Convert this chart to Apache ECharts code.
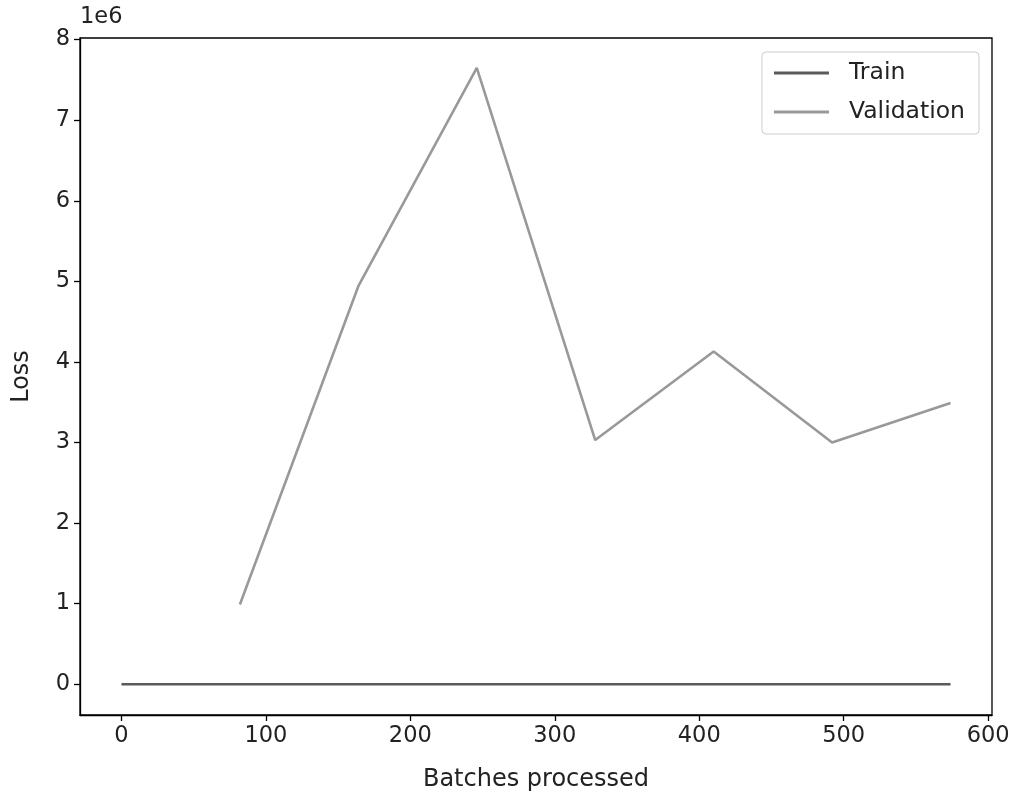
<!DOCTYPE html>
<html>
<head>
<meta charset="utf-8">
<script src="https://cdn.jsdelivr.net/npm/echarts@6/dist/echarts.min.js"></script>
<style>html,body{margin:0;padding:0;background:#fff;}#c{width:1014px;height:797px;}</style>
</head>
<body>
<div id="c"></div>
<script>
const trainX = [0, 82, 164, 246, 328, 410, 492, 574];
const trainY = [0, 0, 0, 0, 0, 0, 0, 0];
const valX = [82, 164, 246, 328, 410, 492, 574];
const valY = [0.99e6, 4.94e6, 7.65e6, 3.03e6, 4.13e6, 3.0e6, 3.49e6];
const xTicks = [0, 100, 200, 300, 400, 500, 600];
const yTicks = [0, 1e6, 2e6, 3e6, 4e6, 5e6, 6e6, 7e6, 8e6];

const font = 'DejaVu Sans';
const chart = echarts.init(document.getElementById('c'), null, {renderer: 'canvas'});
chart.setOption({
  animation: false,
  backgroundColor: '#fff',
  textStyle: {fontFamily: font},
  grid: {left: 80, right: 22, top: 38, bottom: 81, show: true, borderColor: '#000', borderWidth: 1.3, backgroundColor: 'transparent'},
  legend: {
    orient: 'vertical', right: 35, top: 52,
    itemWidth: 55, itemHeight: 3, itemGap: 15,
    icon: 'rect',
    padding: [9, 14, 10, 12],
    borderColor: '#ccc', borderWidth: 1, borderRadius: 4,
    backgroundColor: 'rgba(255,255,255,0.8)',
    textStyle: {fontFamily: font, fontSize: 23.5, color: '#222', padding: [0, 0, 0, 15]},
    data: ['Train', 'Validation']
  },
  xAxis: {
    type: 'value', min: -28.7, max: 602.7,
    name: 'Batches processed', nameLocation: 'middle', nameGap: 53,
    nameTextStyle: {fontFamily: font, fontSize: 24, color: '#222'},
    axisLine: {show: true, onZero: false, lineStyle: {color: '#000', width: 1.3}},
    axisTick: {show: true, length: 6, lineStyle: {color: '#000', width: 1.3}, customValues: xTicks},
    axisLabel: {fontFamily: font, fontSize: 22.5, color: '#222', margin: 10, customValues: xTicks},
    splitLine: {show: false}
  },
  yAxis: {
    type: 'value', min: -0.382e6, max: 8.02e6,
    name: 'Loss', nameLocation: 'middle', nameGap: 46,
    nameTextStyle: {fontFamily: font, fontSize: 24, color: '#222'},
    axisLine: {show: true, onZero: false, lineStyle: {color: '#000', width: 1.3}},
    axisTick: {show: true, length: 6, lineStyle: {color: '#000', width: 1.3}, customValues: yTicks},
    axisLabel: {fontFamily: font, fontSize: 22.5, color: '#222', margin: 10, customValues: yTicks,
      formatter: v => String(Math.round(v / 1e6))},
    splitLine: {show: false}
  },
  graphic: [{
    type: 'text', left: 80, top: 6,
    style: {text: '1e6', fontFamily: font, fontSize: 22.5, fill: '#222'}
  }],
  series: [
    {name: 'Train', type: 'line', showSymbol: false, symbol: 'none',
     data: trainX.map((x, i) => [x, trainY[i]]),
     lineStyle: {color: '#5a5a5a', width: 2.6}, itemStyle: {color: '#5a5a5a'}},
    {name: 'Validation', type: 'line', showSymbol: false, symbol: 'none',
     data: valX.map((x, i) => [x, valY[i]]),
     lineStyle: {color: '#999999', width: 2.6}, itemStyle: {color: '#999999'}}
  ]
});
</script>
</body>
</html>
